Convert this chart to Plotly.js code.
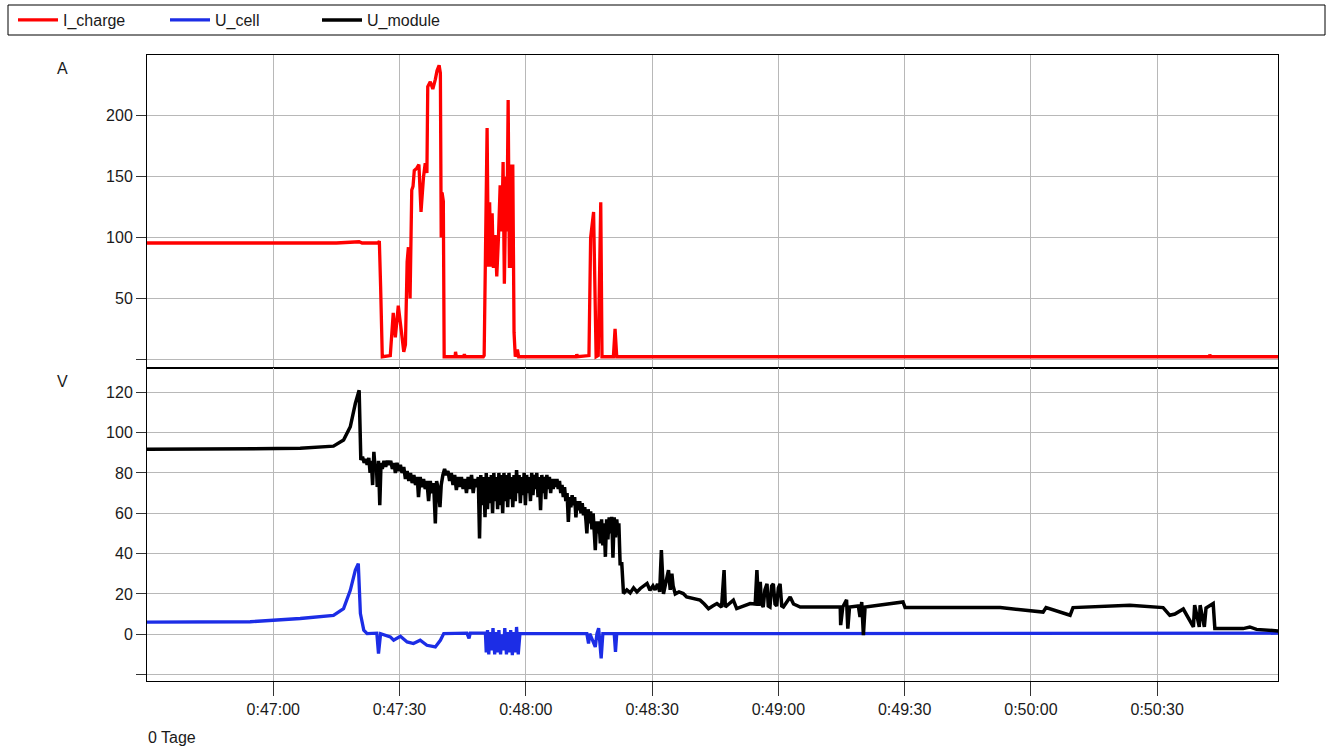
<!DOCTYPE html>
<html>
<head>
<meta charset="utf-8">
<script src="https://cdn.plot.ly/plotly-3.0.1.min.js"></script>
<style>html,body{margin:0;padding:0;background:#fff;}#chart{width:1333px;height:747px;}</style>
</head>
<body>
<div id="chart"></div>
<script>
// time in seconds since 0:00:00
const tickVals = [2820, 2850, 2880, 2910, 2940, 2970, 3000, 3030];
const tickText = ["0:47:00", "0:47:30", "0:48:00", "0:48:30", "0:49:00", "0:49:30", "0:50:00", "0:50:30"];

const tCharge = [2790, 2820, 2835, 2840.4, 2841.1, 2844.9, 2845.2, 2845.5, 2845.9, 2847.8, 2848.2, 2848.5, 2849, 2849.7, 2850.6, 2851, 2851.4, 2851.8, 2852.1, 2852.5, 2852.9, 2853.2, 2853.5, 2854.1, 2854.6, 2855.1, 2855.7, 2856.1, 2856.5, 2856.7, 2857.3, 2857.9, 2858.5, 2858.9, 2859.4, 2859.7, 2859.9, 2860.1, 2860.4, 2860.6, 2863.2, 2863.3, 2863.5, 2865.2, 2865.4, 2865.6, 2869.9, 2870.1, 2870.8, 2871.1, 2871.4, 2871.7, 2872, 2872.3, 2872.7, 2873.1, 2873.5, 2873.9, 2874.3, 2874.6, 2874.9, 2875.3, 2875.5, 2875.8, 2876.1, 2876.5, 2876.8, 2876.9, 2877.2, 2877.5, 2878, 2878.3, 2892, 2892.1, 2892.3, 2895, 2895.4, 2896.1, 2896.7, 2897.2, 2897.8, 2898.1, 2900.8, 2901.2, 2901.6, 2960, 3000, 3042.3, 3042.5, 3042.8, 3059];
const iCharge = [95.5, 95.5, 95.5, 96.5, 95.5, 95.5, 97, 60, 2, 3, 20, 38, 18, 44, 18, 6, 12, 80, 92, 50, 139, 142, 155, 157, 160, 121, 150, 161, 153, 224, 228, 222, 230, 237, 241.6, 235, 100, 137, 130, 2, 2, 6, 2, 2, 4, 2, 2, 3, 190, 76, 129, 76, 120, 75, 102, 68, 100, 143, 105, 162, 62, 150, 105, 213, 75, 160, 75, 160, 22, 2, 8, 2, 2, 4, 2, 3, 100, 121, 2, 3, 129, 2, 2, 25, 2, 2, 2, 2, 3.5, 2, 2];

const tModule = [2790, 2814.5, 2826.4, 2834.3, 2836.7, 2838.3, 2839.5, 2840.4, 2840.7, 2840.8,
  2841.2, 2841.6, 2842.0, 2842.3, 2842.7, 2843.0, 2843.3, 2843.6, 2843.9, 2844.2, 2844.5, 2844.7, 2845.0, 2845.3, 2845.6, 2845.9,
  2846.3, 2846.7, 2847.1, 2847.5, 2847.9, 2848.3, 2848.7, 2849.0, 2849.4, 2849.8, 2850.2, 2850.6, 2851.0, 2851.4, 2851.8, 2852.2,
  2852.6, 2853.0, 2853.4, 2853.8, 2854.2, 2854.5, 2854.9, 2855.3, 2855.7, 2856.1, 2856.5, 2856.9, 2857.3, 2857.7, 2858.1, 2858.5,
  2858.8, 2859.2, 2859.6, 2859.9, 2860.3, 2860.7, 2861.1, 2861.5, 2861.9, 2862.3, 2862.7, 2863.1, 2863.5, 2863.9, 2864.3, 2864.7,
  2865.1, 2865.5, 2865.9, 2866.3, 2866.7, 2867.1, 2867.5, 2867.9, 2868.3, 2868.7, 2869.0, 2869.3, 2869.6, 2870.0, 2870.3, 2870.6,
  2870.9, 2871.2, 2871.5, 2871.8, 2872.1, 2872.4, 2872.7, 2873.0, 2873.3, 2873.6, 2873.9, 2874.2, 2874.5, 2874.8, 2875.1, 2875.4,
  2875.7, 2876.0, 2876.3, 2876.6, 2876.9, 2877.2, 2877.5, 2877.8, 2878.1, 2878.4, 2878.7, 2879.0, 2879.3, 2879.6, 2879.9, 2880.2,
  2880.5, 2880.8, 2881.1, 2881.4, 2881.7, 2882.0, 2882.3, 2882.6, 2882.9, 2883.2, 2883.5, 2883.8, 2884.1, 2884.4, 2884.7, 2885.0,
  2885.3, 2885.6, 2885.9, 2886.2, 2886.5, 2886.8, 2887.1, 2887.4, 2887.7, 2888.0, 2888.3, 2888.6, 2888.9, 2889.2, 2889.5, 2889.8,
  2890.1, 2890.4, 2890.7, 2891.0, 2891.3, 2891.6, 2891.9, 2892.2, 2892.5, 2892.8, 2893.1, 2893.4, 2893.7, 2894.0, 2894.3, 2894.5,
  2894.8, 2895.1, 2895.4, 2895.7, 2896.0, 2896.3, 2896.5, 2896.8, 2897.1, 2897.4, 2897.7, 2898.0, 2898.3, 2898.6, 2898.9, 2899.2,
  2899.5, 2899.8, 2900.1, 2900.4, 2900.7, 2901.0, 2901.3, 2901.6, 2901.9, 2902.1, 2902.4, 2902.8, 2903.2,
  2904.0, 2904.8, 2905.6, 2906.4, 2907.2, 2908.0, 2908.8, 2909.5, 2910.2, 2910.7, 2911.3, 2911.8, 2912.2, 2912.7, 2913.2, 2913.9,
  2914.3, 2914.7, 2915.0, 2915.5, 2916.4, 2917.4, 2918.2, 2919.5, 2921.4, 2922.4, 2923.4, 2924.4, 2925.4, 2926.5, 2927.1, 2927.4,
  2928.3, 2929.3, 2930.1, 2931.5, 2933.3, 2934.5, 2934.9, 2935.3, 2935.7, 2936.0, 2936.4, 2936.8, 2937.3, 2937.6, 2938.0, 2938.4,
  2938.8, 2939.2, 2939.6, 2940.0, 2940.4, 2940.8, 2941.2, 2942.0, 2942.8, 2943.6, 2945.2, 2954.7, 2954.8, 2955.3, 2956.2, 2956.5,
  2956.9, 2959.0, 2959.4, 2959.8, 2960.2, 2960.6, 2969.6, 2970.1, 2992.7, 3002.9, 3003.6, 3009.3, 3010.0, 3023.5, 3031.4, 3033.0,
  3034.2, 3036.2, 3038.6, 3038.9, 3040.0, 3040.2, 3041.2, 3041.6, 3043.3, 3043.7, 3050.4, 3052.0, 3053.6, 3059];
const uModule = [91.7, 92.0, 92.2, 93.3, 96.3, 102.9, 114.5, 121, 101, 86.4,
  88, 85, 87, 84, 87.5, 80, 86, 74, 90.5, 82, 84, 73, 86, 64, 85, 82,
  86, 83, 86, 84, 86, 82, 85, 80, 85, 81, 84, 80, 83, 77, 81, 76,
  80, 75, 79, 74, 78, 68, 78, 73, 77, 72, 76, 66, 76, 70, 75, 55,
  76, 72, 63, 74, 79, 82, 79, 81, 76, 80, 74, 79, 71.5, 78, 73, 78,
  72, 77, 70, 78, 72, 79, 70, 77, 73, 78, 47.5, 79, 64, 78, 58, 80,
  62, 78, 65, 79, 60, 80, 66, 78, 62, 80, 64, 79, 60, 80, 66, 79,
  63, 80, 67, 78, 63, 79, 66, 81.4, 70, 79, 65, 78, 69, 80, 64, 79,
  70, 78, 66, 80, 69, 79, 72, 80, 68, 78, 61.5, 79, 70, 78, 67, 79,
  72, 78, 70, 77, 72, 77, 73, 77, 72, 76, 70, 74, 68, 73, 66, 70,
  55.7, 68, 63, 69, 64, 68, 58, 66, 61.5, 66, 60, 65, 59, 63, 56, 50,
  62, 55, 61, 52, 60, 48, 41.7, 56, 50, 56, 45, 57, 44, 55, 38.4, 57,
  47, 58, 50, 58.2, 38, 58, 48, 57, 50, 55, 35, 35, 20.2,
  22, 20.5, 23, 21, 22.7, 24, 25.2, 21.8, 24, 22, 25, 21, 41.7, 20, 25, 31.8,
  22, 30, 24, 20, 21, 20.2, 18.5, 18, 16.9, 15, 12.7, 14, 15.2, 13.5, 31.8, 13.5,
  15, 16.9, 12.7, 14, 15.2, 15, 31.8, 14, 26, 15, 13.5, 22, 25, 14, 13.5, 24,
  25, 15, 14, 23, 25, 14, 13.5, 16, 18.5, 15, 13.5, 13.5, 4.5, 13.5, 17, 2.8,
  13.5, 14, 8.6, 16, -0.5, 13.5, 16, 13.3, 13.2, 11, 13.2, 9.4, 13.2, 14.4, 13.2, 9.4,
  10, 12.5, 3.6, 14.4, 3.6, 14.4, 3.6, 13, 15.2, 2.8, 2.8, 3.6, 2.4, 1.6];

const tCell = [2790, 2814.5, 2826.4, 2834.3, 2836.7, 2838.3, 2839.5, 2840.2, 2840.7, 2841.5, 2842.3, 2844.6, 2845.0, 2845.5, 2847.8, 2848.6, 2850.2, 2851.8, 2853.3, 2854.9, 2856.5, 2858.5, 2859.7, 2860.5, 2866.0, 2866.5, 2866.8, 2870.4, 2870.6, 2870.9, 2871.2, 2871.5, 2871.9, 2872.2, 2872.6, 2872.9, 2873.3, 2873.6, 2874.0, 2874.3, 2874.7, 2875.0, 2875.4, 2875.7, 2876.1, 2876.4, 2876.8, 2877.1, 2877.5, 2877.8, 2878.2, 2878.6, 2894.5, 2894.9, 2895.2, 2896.5, 2896.9, 2897.3, 2897.9, 2898.3, 2901.0, 2901.3, 2901.6, 2960, 3059];
const uCell = [6, 6.2, 7.8, 9.4, 12.7, 21.8, 31.8, 35, 10.3, 2, 0.3, 0.5, -9.6, 0.3, -1.3, -3, -1, -3.8, -4.6, -3, -5.5, -6.3, -3, 0.3, 0.5, -2, 0.5, 0.5, -9, 2, -10, 1, -8, 3, -10, 1, -9, 2, -10, 0, -8, 3, -10, 1, -9, 2, -10.4, 1, -9, 3.6, -10, 0.3, 0.3, -4.6, 0.3, -6.3, 0.3, 3, -12, 0.3, 0.3, -8.8, 0.3, 0.5, 0.5];

const topTickVals = [0, 50, 100, 150, 200];
const topTickText = ["", "50", "100", "150", "200"];
const botTickVals = [-20, 0, 20, 40, 60, 80, 100, 120];
const botTickText = ["", "0", "20", "40", "60", "80", "100", "120"];

const font = {family: "Liberation Sans, Arial, sans-serif", size: 16, color: "#1a1a1a"};
const gridColor = "#b8b8b8";
const W = 1333, H = 747;
const px = v => v / W;
const py = v => 1 - v / H;

const traces = [
  {x: tCharge, y: iCharge, name: "I_charge", type: "scatter", mode: "lines", line: {color: "#ff0000", width: 3.3}, xaxis: "x", yaxis: "y"},
  {x: tCell, y: uCell, name: "U_cell", type: "scatter", mode: "lines", line: {color: "#1c2de6", width: 3.3}, xaxis: "x2", yaxis: "y2"},
  {x: tModule, y: uModule, name: "U_module", type: "scatter", mode: "lines", line: {color: "#000000", width: 3.5}, xaxis: "x2", yaxis: "y2"}
];

const xCommon = {
  domain: [px(147), px(1278)],
  range: [2790, 3058.7], tickvals: tickVals, ticktext: tickText,
  showgrid: true, gridcolor: gridColor, gridwidth: 1, zeroline: false,
  showline: true, linecolor: "#000", linewidth: 1, mirror: true,
  tickfont: font, automargin: false
};
const yCommon = {
  ticks: "outside", ticklen: 10, tickcolor: "#333", showgrid: true, gridcolor: gridColor,
  zeroline: false, showline: true, linecolor: "#000", linewidth: 1, mirror: true, tickfont: font, automargin: false
};

const layout = {
  width: W, height: H,
  margin: {l: 0, r: 0, t: 0, b: 0, pad: 0},
  paper_bgcolor: "#fff", plot_bgcolor: "#fff",
  font: font,
  showlegend: true,
  legend: {orientation: "h", x: px(13), xanchor: "left", y: py(20), yanchor: "middle",
           font: font, bgcolor: "rgba(0,0,0,0)", borderwidth: 0, itemwidth: 40,
           entrywidth: 97, entrywidthmode: "pixels", traceorder: "normal"},
  xaxis: Object.assign({}, xCommon, {anchor: "y", showticklabels: false, ticks: ""}),
  xaxis2: Object.assign({}, xCommon, {anchor: "y2", matches: "x", ticks: "outside", ticklen: 14, tickcolor: "#333", tickwidth: 1}),
  yaxis: Object.assign({}, yCommon, {domain: [py(367.7), py(55)], range: [-7, 250], tickvals: topTickVals, ticktext: topTickText}),
  yaxis2: Object.assign({}, yCommon, {domain: [py(681), py(367.7)], range: [-23.2, 132.2], tickvals: botTickVals, ticktext: botTickText}),
  shapes: [
    {type: "rect", xref: "paper", yref: "paper", x0: px(8), x1: px(1325), y0: py(35), y1: py(5),
     line: {color: "#000", width: 1}, fillcolor: "rgba(0,0,0,0)"}
  ],
  annotations: [
    {text: "A", xref: "paper", yref: "paper", x: px(62), y: py(68), xanchor: "center", yanchor: "middle", showarrow: false, font: font},
    {text: "V", xref: "paper", yref: "paper", x: px(62), y: py(381), xanchor: "center", yanchor: "middle", showarrow: false, font: font},
    {text: "0 Tage", xref: "paper", yref: "paper", x: px(146), y: py(737), xanchor: "left", yanchor: "middle", showarrow: false, font: font}
  ]
};

Plotly.newPlot("chart", traces, layout, {displayModeBar: false, staticPlot: true});
</script>
</body>
</html>
